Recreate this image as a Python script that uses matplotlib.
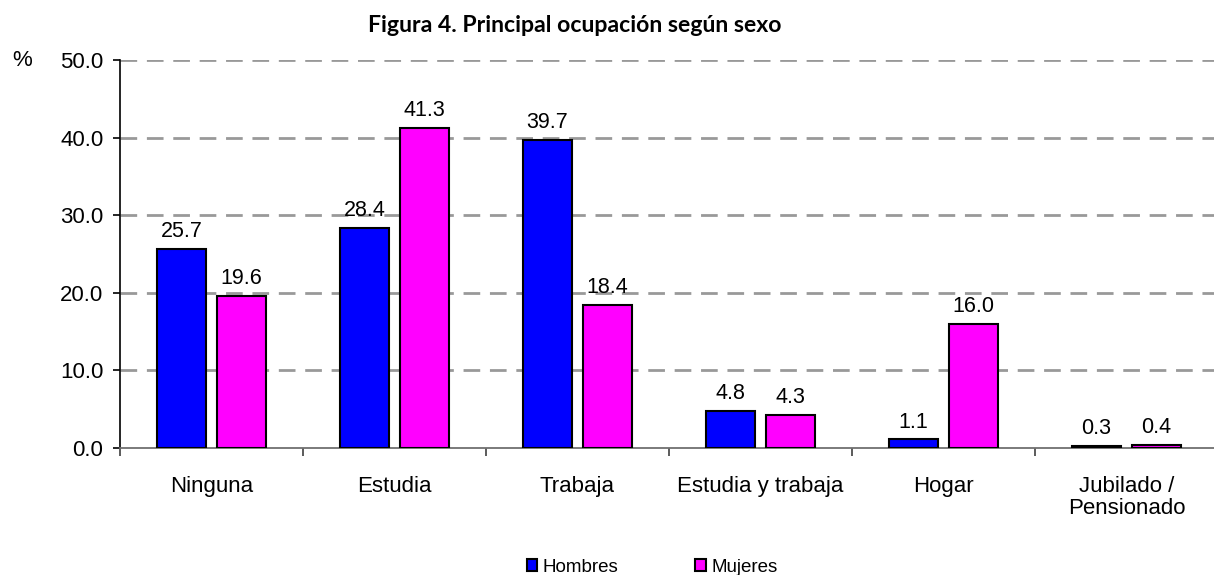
import matplotlib.pyplot as plt
import numpy as np

categories = ['Ninguna', 'Estudia', 'Trabaja', 'Estudia y trabaja', 'Hogar', 'Jubilado /\nPensionado']
hombres = [25.7, 28.4, 39.7, 4.8, 1.1, 0.3]
mujeres = [19.6, 41.3, 18.4, 4.3, 16.0, 0.4]
yticks = [0, 10, 20, 30, 40, 50]

plt.rcParams['font.family'] = ['Liberation Sans', 'DejaVu Sans']

fig = plt.figure(figsize=(12.14, 5.75), dpi=100)
ax = fig.add_axes([120 / 1214, 127 / 575, 1098 / 1214, 388 / 575])

x = np.arange(len(categories))
w = 0.273
b1 = ax.bar(x - 0.164, hombres, w, color='#0000ff', edgecolor='black', linewidth=1.5, label='Hombres', zorder=3)
b2 = ax.bar(x + 0.164, mujeres, w, color='#ff00ff', edgecolor='black', linewidth=1.5, label='Mujeres', zorder=3)

for bars, vals in ((b1, hombres), (b2, mujeres)):
    for r, v in zip(bars, vals):
        ax.annotate(f'{v:.1f}', (r.get_x() + r.get_width() / 2, r.get_height()),
                    xytext=(0, 5), textcoords='offset points', ha='center', va='bottom', fontsize=15.5)

ax.set_xlim(-0.5, len(categories) - 0.5)
ax.set_ylim(0, 50)
ax.set_yticks(yticks)
ax.set_yticklabels([f'{t:.1f}' for t in yticks], fontsize=16)
ax.set_xticks(x)
ax.set_xticklabels(categories, fontsize=16, linespacing=1.05)
ax.set_xticks(np.arange(len(categories) + 1) - 0.5, minor=True)
ax.tick_params(axis='x', which='major', length=0, pad=20)
ax.tick_params(axis='x', which='minor', length=6, width=1.2, color='#404040', direction='out')
ax.tick_params(axis='y', length=5, width=1.2, direction='out', pad=7)

for y in yticks[1:]:
    ax.axhline(y, color='#999999', linewidth=2, linestyle=(0, (6, 3.5)), zorder=1)

ax.spines['top'].set_visible(False)
ax.spines['right'].set_visible(False)
ax.spines['left'].set_linewidth(1.2)
ax.spines['bottom'].set_color('#707070')
ax.spines['bottom'].set_linewidth(1.3)

fig.text(22 / 1214, 1 - 61 / 575, '%', fontsize=16, va='center', ha='center')
fig.text(575 / 1214, 1 - 25 / 575, 'Figura 4. Principal ocupación según sexo',
         fontsize=16.6, fontweight='bold', ha='center', va='center', family=['Lato', 'DejaVu Sans'])

fig.legend(handles=[b1, b2], loc='center', bbox_to_anchor=(652 / 1214, 1 - 567 / 575), ncol=2, frameon=False,
           fontsize=13.5, handlelength=0.55, handleheight=0.55, handletextpad=0.3, columnspacing=4.1,
           borderpad=0, borderaxespad=0)

fig.savefig('out.png', dpi=100)
